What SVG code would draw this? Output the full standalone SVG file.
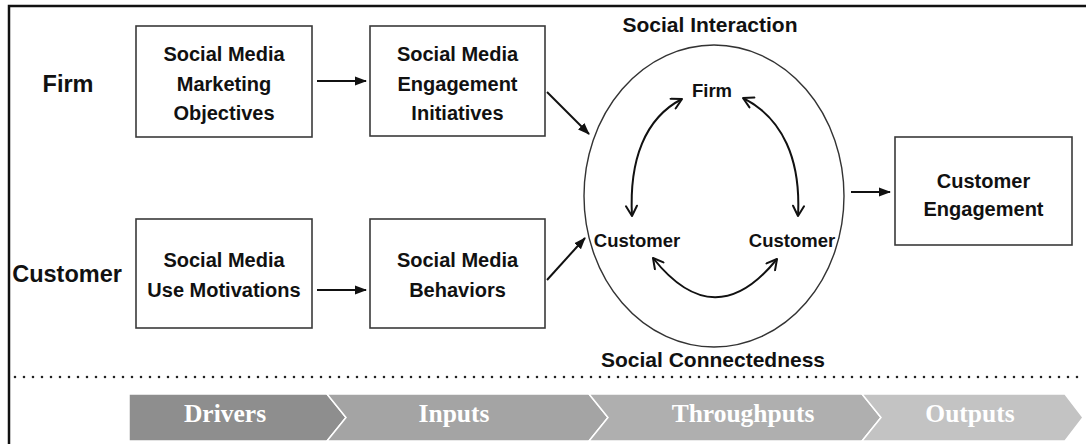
<svg xmlns="http://www.w3.org/2000/svg" width="1086" height="444" viewBox="0 0 1086 444">
<style>
.box{fill:#fff;stroke:#3a3a3a;stroke-width:1.6}
.t{font-family:"Liberation Sans",Arial,sans-serif;font-weight:bold;fill:#111;text-anchor:middle}
.bt{font-size:20px}
.side{font-size:23.5px}
.lab{font-size:21px}
.in{font-size:18.5px}
.conn{fill:none;stroke:#111;stroke-width:2}
.arc{fill:none;stroke:#111;stroke-width:2}
.ch{stroke:#fff;stroke-width:1.5}
.ct{font-family:"Liberation Serif","Times New Roman",serif;font-weight:bold;font-size:25.5px;fill:#fff;text-anchor:middle}
</style>
<defs>
<marker id="ah" viewBox="0 0 12 12" refX="11" refY="6" markerWidth="12" markerHeight="12" markerUnits="userSpaceOnUse" orient="auto">
<path d="M0,1.5 L12,6 L0,10.5 Z" fill="#111"/>
</marker>
<marker id="vh" viewBox="0 0 13 13" refX="12" refY="6.5" markerWidth="13" markerHeight="13" markerUnits="userSpaceOnUse" orient="auto-start-reverse">
<path d="M2,1 L12,6.5 L2,12" fill="none" stroke="#111" stroke-width="2" stroke-linecap="round" stroke-linejoin="round"/>
</marker>
</defs>
<rect width="1086" height="444" fill="#fff"/>
<g id="frame">
<path d="M9,444 L9,6 L1086,6" fill="none" stroke="#111" stroke-width="2.5"/>
<line x1="15" y1="377" x2="1078" y2="377" stroke="#222" stroke-width="2.6" stroke-linecap="round" stroke-dasharray="0 9"/>
</g>
<g id="label-firm"><text class="t side" x="68" y="92">Firm</text></g>
<g id="label-customer"><text class="t side" x="67" y="282">Customer</text></g>
<g id="n-smmo">
<rect class="box" x="136" y="26" width="176" height="111"/>
<text class="t bt" x="224" y="61">Social Media</text>
<text class="t bt" x="224" y="91">Marketing</text>
<text class="t bt" x="224" y="120">Objectives</text>
</g>
<g id="n-smei">
<rect class="box" x="370" y="26" width="175" height="110"/>
<text class="t bt" x="457.5" y="61">Social Media</text>
<text class="t bt" x="457.5" y="91">Engagement</text>
<text class="t bt" x="457.5" y="120">Initiatives</text>
</g>
<g id="n-smum">
<rect class="box" x="136" y="219" width="176" height="109"/>
<text class="t bt" x="224" y="267">Social Media</text>
<text class="t bt" x="224" y="297">Use Motivations</text>
</g>
<g id="n-smb">
<rect class="box" x="370" y="219" width="175" height="109"/>
<text class="t bt" x="457.5" y="267">Social Media</text>
<text class="t bt" x="457.5" y="297">Behaviors</text>
</g>
<g id="n-social">
<ellipse cx="714" cy="196" rx="130" ry="151" fill="none" stroke="#333" stroke-width="1.4"/>
<text class="t lab" x="710" y="32">Social Interaction</text>
<text class="t lab" x="713" y="367">Social Connectedness</text>
<text class="t in" x="712" y="97">Firm</text>
<text class="t in" x="637" y="247">Customer</text>
<text class="t in" x="792" y="247">Customer</text>
</g>
<g id="n-ce">
<rect class="box" x="895" y="137" width="177" height="108"/>
<text class="t bt" x="983.5" y="188">Customer</text>
<text class="t bt" x="983.5" y="216">Engagement</text>
</g>
<g id="connectors">
<line class="conn" x1="317" y1="81" x2="366" y2="81" marker-end="url(#ah)"/>
<line class="conn" x1="317" y1="290" x2="366" y2="290" marker-end="url(#ah)"/>
<line class="conn" x1="547" y1="92" x2="589" y2="134" marker-end="url(#ah)"/>
<line class="conn" x1="547" y1="280" x2="585" y2="238" marker-end="url(#ah)"/>
<line class="conn" x1="851" y1="192" x2="890" y2="192" marker-end="url(#ah)"/>
<path class="arc" d="M632,216 C629,160 645,118 682,99" marker-start="url(#vh)" marker-end="url(#vh)"/>
<path class="arc" d="M798,216 C801,160 783,118 743,98" marker-start="url(#vh)" marker-end="url(#vh)"/>
<path class="arc" d="M653,258 Q715,336 777,259" marker-start="url(#vh)" marker-end="url(#vh)"/>
</g>
<g id="stages">
<polygon class="ch" points="129,394 327,394 346,417.5 327,441 129,441" fill="#8e8e8e"/>
<polygon class="ch" points="327,394 589,394 608,417.5 589,441 327,441 346,417.5" fill="#a4a4a4"/>
<polygon class="ch" points="589,394 862,394 881,417.5 862,441 589,441 608,417.5" fill="#afafaf"/>
<polygon class="ch" points="862,394 1065,394 1083,417.5 1065,441 862,441 881,417.5" fill="#c3c3c3"/>
<text class="ct" x="225" y="422">Drivers</text>
<text class="ct" x="454" y="422">Inputs</text>
<text class="ct" x="743" y="422">Throughputs</text>
<text class="ct" x="970" y="422">Outputs</text>
</g>
</svg>
